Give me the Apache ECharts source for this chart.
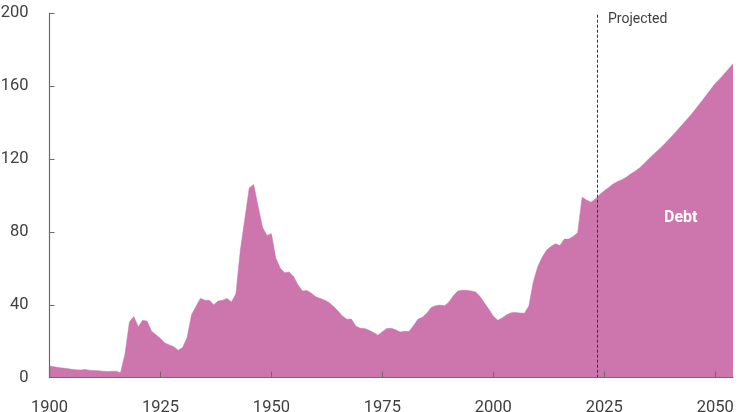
<!DOCTYPE html>
<html>
<head>
<meta charset="UTF-8">
<title>Debt</title>
<script src="https://cdn.jsdelivr.net/npm/echarts@6/dist/echarts.min.js"></script>
<style>
  html, body { margin: 0; padding: 0; background: #fff; }
  #chart { width: 750px; height: 412px; }
</style>
</head>
<body>
<div id="chart"></div>
<script>
// years 1900-2054, history through 2023, projections after
var years = [];
for (var y = 1900; y <= 2054; y++) years.push(y);

// debt held by the public, percent of GDP
var debt = [
  6.4, 6.0, 5.6, 5.3, 5.0, 4.6, 4.3, 4.2, 4.5, 4.1,          // 1900s
  3.9, 3.8, 3.6, 3.4, 3.5, 3.6, 2.7, 13.0, 30.5, 33.5,       // 1910s
  28.0, 31.5, 31.0, 25.5, 23.5, 21.5, 19.0, 18.0, 17.0, 15.0, // 1920s
  16.5, 22.0, 34.5, 39.0, 43.5, 42.5, 42.5, 40.0, 42.0, 42.5, // 1930s
  43.5, 41.5, 46.0, 70.0, 87.0, 104.0, 106.0, 94.0, 82.5, 78.0, // 1940s
  79.0, 65.5, 60.0, 57.5, 58.0, 55.5, 50.8, 47.5, 47.8, 46.3, // 1950s
  44.4, 43.5, 42.5, 41.2, 39.0, 36.6, 33.8, 32.0, 32.2, 28.3, // 1960s
  27.1, 27.0, 26.0, 24.8, 23.3, 25.2, 27.0, 27.1, 26.3, 25.0, // 1970s
  25.5, 25.3, 28.5, 32.0, 33.1, 35.3, 38.5, 39.5, 39.8, 39.4, // 1980s
  41.5, 45.0, 47.5, 48.0, 47.9, 47.6, 47.0, 44.5, 41.0, 37.5, // 1990s
  33.7, 31.5, 32.8, 34.5, 35.6, 35.8, 35.5, 35.3, 39.3, 52.5, // 2000s
  60.8, 66.0, 70.0, 72.0, 73.5, 72.5, 76.0, 76.0, 77.5, 79.5, // 2010s
  99.0, 97.5, 96.2, 98.0, 100.5, 102.5, 104.3, 106.2, 107.6, 108.6, // 2020s
  110.0, 111.8, 113.3, 115.2, 117.5, 120.0, 122.3, 124.5, 126.8, 129.2, // 2030s
  131.8, 134.5, 137.2, 139.9, 142.7, 145.6, 148.7, 151.8, 155.0, 158.2, // 2040s
  161.4, 163.8, 166.5, 169.3, 172.2                            // 2050-2054
];

var yTicks = [0, 40, 80, 120, 160, 200];
var xTicks = [1900, 1925, 1950, 1975, 2000, 2025, 2050];
var projectedFrom = 2023.5;

var chart = echarts.init(document.getElementById('chart'));

var points = years.map(function (yr, i) { return [yr, debt[i]]; });

var option = {
  animation: false,
  grid: { left: 49.5, right: 17, top: 13, bottom: 34.3, outerBoundsMode: 'none', containLabel: false },
  xAxis: {
    type: 'value',
    min: 1900,
    max: 2054,
    interval: 25,
    z: 10,
    axisLine: { show: true, lineStyle: { color: '#6b6b6b', width: 1.2 } },
    axisTick: { show: true, inside: true, length: 6, customValues: xTicks, lineStyle: { color: '#6b6b6b' } },
    axisLabel: {
      customValues: xTicks,
      formatter: function (v) { return String(v); },
      margin: 22,
      fontFamily: 'Roboto',
      fontSize: 16.5,
      color: '#3f3f3f'
    },
    splitLine: { show: false }
  },
  yAxis: {
    type: 'value',
    min: 0,
    max: 200,
    interval: 40,
    z: 10,
    axisLine: { show: true, lineStyle: { color: '#6b6b6b', width: 1.2 } },
    axisTick: { show: true, inside: true, length: 5, customValues: yTicks, lineStyle: { color: '#6b6b6b' } },
    axisLabel: {
      customValues: yTicks,
      margin: 21,
      fontFamily: 'Roboto',
      fontSize: 16.5,
      color: '#3f3f3f'
    },
    splitLine: { show: false }
  },
  series: [{
    type: 'line',
    data: points,
    showSymbol: false,
    symbol: 'none',
    lineStyle: { width: 0.5, color: '#cd75ad' },
    areaStyle: { color: '#cd75ad', opacity: 1 },
    z: 2,
    markLine: {
      silent: true,
      symbol: 'none',
      label: { show: false },
      lineStyle: { type: [3, 2], color: '#333', width: 1 },
      data: [{ xAxis: projectedFrom }],
      z: 5
    }
  }],
  graphic: [
    {
      type: 'text',
      left: 608,
      top: 12,
      z: 100,
      style: { text: 'Projected', font: '14px Roboto', fill: '#3f3f3f' }
    },
    {
      type: 'text',
      left: 664,
      top: 210,
      z: 100,
      style: { text: 'Debt', font: 'bold 16px Roboto', fill: '#ffffff' }
    }
  ]
};

chart.setOption(option);
</script>
</body>
</html>
